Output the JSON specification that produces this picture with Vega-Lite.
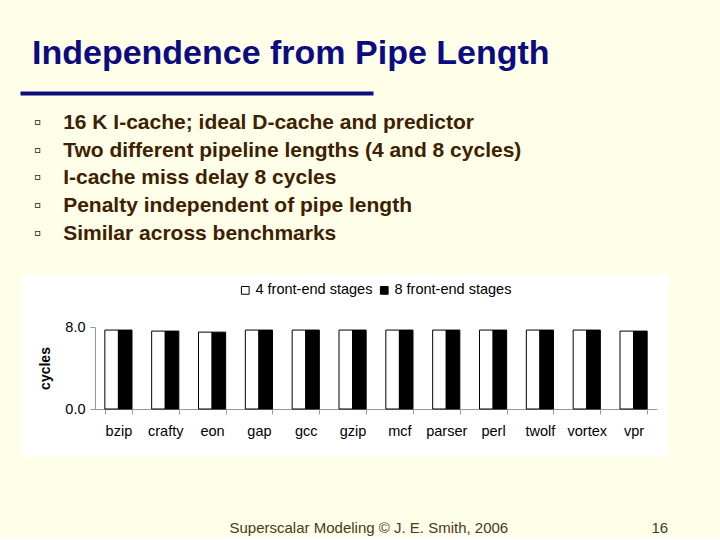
{
  "$schema": "https://vega.github.io/schema/vega-lite/v6.json",
  "background": "#fffee8",
  "padding": {"left": 20, "top": 35, "right": 54, "bottom": 2},
  "spacing": 15,
  "config": {"font": "Arial", "view": {"stroke": null}},
  "resolve": {"legend": {"color": "independent"}},
  "vconcat": [
    {
      "width": 350,
      "height": 1,
      "view": {"fill": "#0c0c80", "stroke": "#0c0c80", "strokeWidth": 3},
      "title": {
        "text": "Independence from Pipe Length",
        "anchor": "start",
        "fontSize": 34,
        "fontWeight": "bold",
        "color": "#0c0c80",
        "offset": 22,
        "dx": 10
      },
      "data": {"values": []},
      "mark": "text"
    },
    {
      "width": 646,
      "height": 182,
      "view": {"fill": "white", "stroke": null},
      "title": {
        "text": [
          "▫\u00a0\u00a0\u00a0\u200916 K I-cache; ideal D-cache and predictor",
          "▫\u00a0\u00a0\u00a0\u2009Two different pipeline lengths (4 and 8 cycles)",
          "▫\u00a0\u00a0\u00a0\u2009I-cache miss delay 8 cycles",
          "▫\u00a0\u00a0\u00a0\u2009Penalty independent of pipe length",
          "▫\u00a0\u00a0\u00a0\u2009Similar across benchmarks"
        ],
        "anchor": "start",
        "fontSize": 21,
        "fontWeight": "bold",
        "color": "#3d2100",
        "lineHeight": 27.8,
        "offset": 31,
        "dx": 12
      },
      "data": {
        "values": [
          {"benchmark": "bzip", "stages": "4 front-end stages", "cycles": 7.7},
          {"benchmark": "bzip", "stages": "8 front-end stages", "cycles": 7.7},
          {"benchmark": "crafty", "stages": "4 front-end stages", "cycles": 7.6},
          {"benchmark": "crafty", "stages": "8 front-end stages", "cycles": 7.6},
          {"benchmark": "eon", "stages": "4 front-end stages", "cycles": 7.5},
          {"benchmark": "eon", "stages": "8 front-end stages", "cycles": 7.5},
          {"benchmark": "gap", "stages": "4 front-end stages", "cycles": 7.7},
          {"benchmark": "gap", "stages": "8 front-end stages", "cycles": 7.7},
          {"benchmark": "gcc", "stages": "4 front-end stages", "cycles": 7.7},
          {"benchmark": "gcc", "stages": "8 front-end stages", "cycles": 7.7},
          {"benchmark": "gzip", "stages": "4 front-end stages", "cycles": 7.7},
          {"benchmark": "gzip", "stages": "8 front-end stages", "cycles": 7.7},
          {"benchmark": "mcf", "stages": "4 front-end stages", "cycles": 7.7},
          {"benchmark": "mcf", "stages": "8 front-end stages", "cycles": 7.7},
          {"benchmark": "parser", "stages": "4 front-end stages", "cycles": 7.7},
          {"benchmark": "parser", "stages": "8 front-end stages", "cycles": 7.7},
          {"benchmark": "perl", "stages": "4 front-end stages", "cycles": 7.7},
          {"benchmark": "perl", "stages": "8 front-end stages", "cycles": 7.7},
          {"benchmark": "twolf", "stages": "4 front-end stages", "cycles": 7.7},
          {"benchmark": "twolf", "stages": "8 front-end stages", "cycles": 7.7},
          {"benchmark": "vortex", "stages": "4 front-end stages", "cycles": 7.7},
          {"benchmark": "vortex", "stages": "8 front-end stages", "cycles": 7.7},
          {"benchmark": "vpr", "stages": "4 front-end stages", "cycles": 7.6},
          {"benchmark": "vpr", "stages": "8 front-end stages", "cycles": 7.6}
        ]
      },
      "mark": {"type": "bar", "stroke": "black", "strokeWidth": 1},
      "encoding": {
        "x": {
          "field": "benchmark",
          "type": "nominal",
          "sort": null,
          "scale": {"range": [73, 635], "paddingInner": 0.42, "paddingOuter": 0.21},
          "axis": {
            "orient": "bottom",
            "offset": -48,
            "title": "Superscalar Modeling © J. E. Smith, 2006\u2003\u2003\u2003\u2003\u2003\u2003\u2003\u2003\u2003\u00a0\u00a016",
            "titleFontSize": 15,
            "titleFontWeight": "normal",
            "titleColor": "#4a3a20",
            "titleAnchor": "start",
            "titleAlign": "left",
            "titleBaseline": "alphabetic",
            "titleX": 207,
            "titleY": 123,
            "labelAngle": 0,
            "labelFontSize": 14.5,
            "labelColor": "black",
            "labelPadding": 10,
            "tickBand": "extent",
            "tickSize": 5,
            "tickColor": "#999999",
            "domainColor": "#999999",
            "grid": false
          }
        },
        "xOffset": {
          "field": "stages",
          "type": "nominal",
          "sort": null,
          "scale": {"paddingInner": 0, "paddingOuter": 0}
        },
        "y": {
          "field": "cycles",
          "type": "quantitative",
          "scale": {"domain": [0, 8], "range": [134, 52], "nice": false},
          "axis": {
            "orient": "left",
            "offset": -73,
            "values": [0, 8],
            "format": ".1f",
            "title": "cycles",
            "titleFontSize": 14,
            "titleFontWeight": "bold",
            "titleColor": "black",
            "titlePadding": 12,
            "labelFontSize": 14.5,
            "labelColor": "black",
            "labelPadding": 5,
            "tickSize": 5,
            "tickColor": "#999999",
            "domainColor": "#999999",
            "grid": false
          }
        },
        "color": {
          "field": "stages",
          "type": "nominal",
          "sort": null,
          "scale": {"range": ["white", "black"]},
          "legend": {
            "orient": "none",
            "legendX": 216,
            "legendY": 8,
            "direction": "horizontal",
            "title": null,
            "symbolType": "square",
            "symbolSize": 60,
            "symbolStrokeColor": "black",
            "symbolStrokeWidth": 1,
            "labelFontSize": 14.5,
            "labelColor": "black",
            "labelOffset": 3,
            "columnPadding": 4
          }
        }
      }
    }
  ]
}
